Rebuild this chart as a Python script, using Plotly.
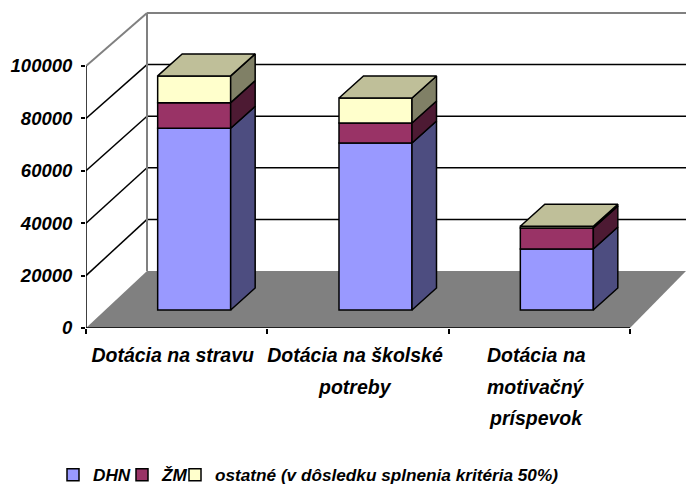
import plotly.graph_objects as go

category_lines = [["Dotácia na stravu"], ["Dotácia na školské", "potreby"], ["Dotácia na", "motivačný", "príspevok"]]
series_names = ["DHN", "ŽM", "ostatné (v dôsledku splnenia kritéria 50%)"]
dhn = [69350, 63740, 23280]
zm = [9800, 7630, 8000]
ostatne = [10200, 9540, 700]
y_ticks = [0, 20000, 40000, 60000, 80000, 100000]

front_colors = ["#9999FF", "#993366", "#FFFFCC"]
side_colors = ["#4D4D80", "#4D1A33", "#808066"]
top_color = "#BFBF99"
FONT = "Liberation Sans"

W, H = 686, 486
L, R, T, B = 86, 0, 8, 158
PX_CAT = 181.33
PX_VAL = 52.4 / 20000
plot_w, plot_h = W - L - R, H - T - B
x_range = [-0.5, -0.5 + plot_w / PX_CAT]
y_range = [0, plot_h / PX_VAL]
x_end = 2.5

# depth 0 = front plane, depth 1 = back wall
DX = 61 / PX_CAT
DY0 = 57 / PX_VAL
DY1 = 53 / PX_VAL


def px(cat, val, depth):
    """Oblique projection of (category, value, depth) to axis coordinates."""
    dy = DY0 + (DY1 - DY0) * val / 100000
    return cat + depth * DX, val + depth * dy


BAR_FRONT = 18 / 57          # depth of the bars' front faces
BAR_DEPTH_X = 24.5 / PX_CAT
BAR_DEPTH_Y = 22 / PX_VAL
BAR_SHIFT = 17.5 / PX_CAT
BAR_W = 73 / PX_CAT
BASE0 = BAR_FRONT * DY0
LABEL_SHIFT = [-4 / PX_CAT, -3 / PX_CAT, -3 / PX_CAT]

shapes = []


def line(p, q, color, width=1.5):
    shapes.append(dict(type="line", xref="x", yref="y", layer="below",
                       x0=p[0], y0=p[1], x1=q[0], y1=q[1],
                       line=dict(color=color, width=width)))


# floor
c = [px(-0.5, 0, 0), px(-0.5, 0, 1), (x_range[1], px(x_end, 0, 1)[1]), px(x_end, 0, 0)]
path = "M " + " L ".join(f"{a},{b}" for a, b in c) + " Z"
shapes.append(dict(type="path", path=path, xref="x", yref="y", layer="below",
                   fillcolor="#808080", line=dict(width=0)))
# grid on walls
for v in y_ticks[1:5]:
    line(px(-0.5, v, 0), px(-0.5, v, 1), "black")
    line(px(-0.5, v, 1), (x_range[1], px(x_end, v, 1)[1]), "black")
v = y_ticks[-1]
line(px(-0.5, v, 0), px(-0.5, v, 1), "#808080", 2)
line(px(-0.5, v, 1), (x_range[1], px(x_end, v, 1)[1]), "#808080", 2)
line(px(-0.5, 0, 1), px(-0.5, v, 1), "#808080", 2)
# axis lines
line(px(-0.5, 0, 0), px(-0.5, v, 0), "black")
line(px(-0.5, 0, 0), px(x_end, 0, 0), "black")

fig = go.Figure()
stack = [dhn, zm, ostatne]
xs = [i + BAR_SHIFT for i in range(len(category_lines))]
legend_ids = ["legend", "legend2", "legend3"]

bases = [BASE0] * len(category_lines)
for name, vals, col, side, lid in zip(series_names, stack, front_colors, side_colors, legend_ids):
    fig.add_trace(go.Bar(name=name, x=xs, y=vals, base=bases, width=BAR_W, legend=lid,
                         marker=dict(color=col, line=dict(color="black", width=1.5)),
                         hoverinfo="skip"))
    sx, sy = [], []
    for x, b, val in zip(xs, bases, vals):
        xr = x + BAR_W / 2
        sx += [xr, xr + BAR_DEPTH_X, xr + BAR_DEPTH_X, xr, xr, None]
        sy += [b, b + BAR_DEPTH_Y, b + val + BAR_DEPTH_Y, b + val, b, None]
    fig.add_trace(go.Scatter(x=sx, y=sy, mode="lines", fill="toself", fillcolor=side,
                             line=dict(color="black", width=1.5), showlegend=False,
                             hoverinfo="skip"))
    bases = [b + val for b, val in zip(bases, vals)]

tx, ty = [], []
for x, b in zip(xs, bases):
    xl, xr = x - BAR_W / 2, x + BAR_W / 2
    tx += [xl, xr, xr + BAR_DEPTH_X, xl + BAR_DEPTH_X, xl, None]
    ty += [b, b, b + BAR_DEPTH_Y, b + BAR_DEPTH_Y, b, None]
fig.add_trace(go.Scatter(x=tx, y=ty, mode="lines", fill="toself", fillcolor=top_color,
                         line=dict(color="black", width=1.5), showlegend=False,
                         hoverinfo="skip"))

label_x = [i + s for i, s in enumerate(LABEL_SHIFT)]
cat_font = dict(family=FONT, size=19.5, color="black", weight="bold", style="italic")
val_font = dict(family=FONT, size=18.5, color="black", weight="bold", style="italic")
leg_font = dict(family=FONT, size=17.2, color="black", weight="bold", style="italic")

# continuation lines of the category labels (the source has wider line spacing than plotly)
annotations = []
for lx, lines in zip(label_x, category_lines):
    for n, text in enumerate(lines[1:], start=1):
        annotations.append(dict(x=lx, xref="x", y=0, yref="y", text=text, showarrow=False,
                                yanchor="middle", yshift=-27 - 31.5 * n, font=cat_font))


def legend_at(left_px):
    return dict(orientation="h", x=left_px / W, xref="container", xanchor="left",
                y=1 - 475 / H, yref="container", yanchor="middle", font=leg_font,
                bgcolor="rgba(0,0,0,0)", itemwidth=30, tracegroupgap=0)


fig.update_layout(
    width=W, height=H, autosize=False,
    margin=dict(l=L, r=R, t=T, b=B, pad=0),
    paper_bgcolor="white", plot_bgcolor="white",
    barmode="overlay", shapes=shapes, annotations=annotations,
    font=cat_font,
    legend=legend_at(53), legend2=legend_at(122), legend3=legend_at(175),
    xaxis=dict(range=x_range, showgrid=False, zeroline=False, showline=False, automargin=False,
               tickmode="array", tickvals=label_x, ticktext=[l[0] for l in category_lines],
               ticks="", tickfont=cat_font, ticklabelstandoff=13, tickangle=0,
               minor=dict(tickmode="array", tickvals=[-0.5, 0.5, 1.5, 2.5], ticks="outside",
                          ticklen=5, tickcolor="black", tickwidth=1.5, showgrid=False)),
    yaxis=dict(range=y_range, showgrid=False, zeroline=False, showline=False, automargin=False,
               tickmode="array", tickvals=y_ticks, ticktext=[str(t) for t in y_ticks],
               ticks="outside", ticklen=4, tickcolor="black", tickwidth=1.5,
               tickfont=val_font, ticklabelstandoff=5),
)
fig.write_html("out.html", config={"displayModeBar": False},
               post_script="document.body.style.margin='0';document.body.style.overflow='hidden';")
